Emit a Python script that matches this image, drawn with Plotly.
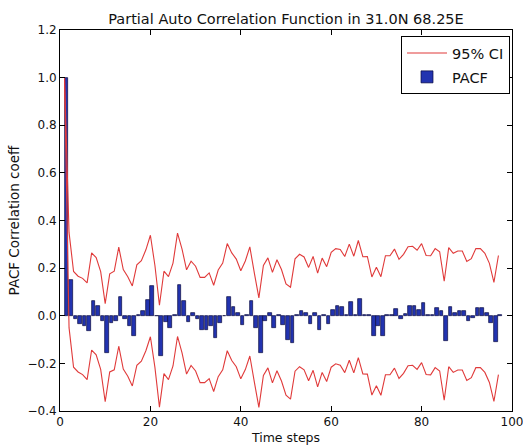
import plotly.graph_objects as go

# Lag positions (time steps) for the PACF bars and the confidence-interval lines
lags = list(range(1, 98))

# PACF values (first value = lag 0)
pacf = [
    1.0, 0.15, -0.015, -0.035, -0.045, -0.065, 0.06, 0.04, -0.02, -0.155,
    -0.03, -0.02, 0.08, -0.015, -0.045, -0.085, 0.003, 0.02, 0.065, 0.125,
    -0.003, -0.17, -0.028, -0.052, 0.005, 0.13, 0.062, -0.026, 0.01, -0.012,
    -0.06, -0.06, -0.042, -0.095, -0.032, -0.003, 0.078, 0.038, 0.012, -0.038,
    0.002, 0.06, -0.05, -0.155, -0.02, 0.012, -0.05, 0.002, -0.04, -0.1,
    -0.115, 0.003, 0.022, 0.01, -0.035, 0.01, -0.06, 0.002, -0.035, 0.025,
    0.04, 0.035, 0.005, 0.057, 0.005, 0.07, 0.002, 0.002, -0.085, -0.045,
    -0.085, 0.002, 0.002, 0.03, -0.013, 0.008, 0.04, 0.042, 0.025, 0.053,
    0.003, 0.002, 0.032, 0.018, -0.105, 0.036, 0.012, 0.022, 0.022, -0.022,
    -0.01, 0.032, 0.032, 0.012, -0.03, -0.11, 0.003,
]

# Upper and lower 95% confidence bounds
ci_upper = [
    1.0, 0.35, 0.186, 0.166, 0.157, 0.138, 0.264, 0.244, 0.185, 0.051,
    0.176, 0.187, 0.288, 0.194, 0.164, 0.125, 0.214, 0.231, 0.277, 0.338,
    0.211, 0.044, 0.187, 0.164, 0.221, 0.347, 0.280, 0.193, 0.229, 0.208,
    0.161, 0.161, 0.180, 0.128, 0.192, 0.221, 0.303, 0.264, 0.238, 0.189,
    0.230, 0.289, 0.179, 0.075, 0.211, 0.243, 0.182, 0.235, 0.194, 0.134,
    0.120, 0.239, 0.258, 0.247, 0.203, 0.249, 0.179, 0.242, 0.206, 0.266,
    0.282, 0.278, 0.249, 0.301, 0.250, 0.316, 0.248, 0.249, 0.163, 0.204,
    0.164, 0.252, 0.252, 0.280, 0.237, 0.258, 0.290, 0.292, 0.275, 0.303,
    0.253, 0.252, 0.282, 0.268, 0.145, 0.286, 0.262, 0.272, 0.272, 0.228,
    0.240, 0.282, 0.282, 0.262, 0.220, 0.140, 0.253,
]
ci_lower = [
    1.0, -0.05, -0.216, -0.236, -0.247, -0.268, -0.144, -0.164, -0.225, -0.361,
    -0.236, -0.227, -0.128, -0.224, -0.254, -0.295, -0.208, -0.191, -0.147, -0.088,
    -0.217, -0.384, -0.243, -0.268, -0.211, -0.087, -0.156, -0.245, -0.209, -0.232,
    -0.281, -0.281, -0.264, -0.318, -0.256, -0.227, -0.147, -0.188, -0.214, -0.265,
    -0.226, -0.169, -0.279, -0.385, -0.251, -0.219, -0.282, -0.231, -0.274, -0.334,
    -0.350, -0.233, -0.214, -0.227, -0.273, -0.229, -0.299, -0.238, -0.276, -0.216,
    -0.202, -0.208, -0.239, -0.187, -0.240, -0.176, -0.244, -0.245, -0.333, -0.294,
    -0.334, -0.248, -0.248, -0.220, -0.263, -0.242, -0.210, -0.208, -0.225, -0.197,
    -0.247, -0.248, -0.218, -0.232, -0.355, -0.214, -0.238, -0.228, -0.228, -0.272,
    -0.260, -0.218, -0.218, -0.238, -0.280, -0.360, -0.247,
]

x_ticks = [0, 20, 40, 60, 80, 100]
y_ticks = [-0.4, -0.2, 0.0, 0.2, 0.4, 0.6, 0.8, 1.0, 1.2]

FONT = "DejaVu Sans"
RED = "#e03a3a"

fig = go.Figure()

fig.add_trace(go.Bar(
    x=lags, y=pacf, name="PACF", width=0.8, offset=0,
    marker=dict(color="#2233b0", line=dict(color="#0a0a40", width=0.7)),
    legendgroup="b", legendrank=2, showlegend=True,
))
fig.add_trace(go.Scatter(
    x=lags, y=ci_upper, mode="lines", name="95% CI",
    line=dict(color=RED, width=1.1), legendgroup="a", legendrank=1,
    showlegend=True,
))
fig.add_trace(go.Scatter(
    x=lags, y=ci_lower, mode="lines", name="95% CI",
    line=dict(color=RED, width=1.1), legendgroup="a", legendrank=1,
    showlegend=False,
))

axis_common = dict(
    showgrid=False, zeroline=False, showline=True, linecolor="#000",
    linewidth=1, mirror="ticks", ticks="inside", ticklen=5, tickwidth=1,
    tickcolor="#000", tickfont=dict(family=FONT, size=12, color="#111"),
    automargin=False,
)

fig.update_layout(
    width=523, height=446,
    margin=dict(l=60, r=11, t=30, b=35),
    paper_bgcolor="white", plot_bgcolor="white",
    font=dict(family=FONT, color="#111"),
    bargap=0,
    title=dict(
        text="Partial Auto Correlation Function in 31.0N 68.25E",
        font=dict(family=FONT, size=14.5, color="#111"),
        x=0.5, xref="paper", xanchor="center",
        y=1 - 19 / 446, yref="container", yanchor="middle",
    ),
    xaxis=dict(
        range=[0, 100], tickvals=x_ticks, ticklabeloverflow="allow",
        title=dict(text="Time steps", font=dict(family=FONT, size=12.5), standoff=4),
        **axis_common,
    ),
    yaxis=dict(
        range=[-0.4, 1.2], tickvals=y_ticks, tickformat=".1f",
        title=dict(text="PACF Correlation coeff", font=dict(family=FONT, size=13.5), standoff=4),
        **axis_common,
    ),
    legend=dict(
        x=0.9956, xanchor="right", y=0.984, yanchor="top",
        bgcolor="white", bordercolor="#000", borderwidth=1,
        font=dict(family=FONT, size=14.5, color="#111"),
        traceorder="grouped", tracegroupgap=2, itemwidth=40,
    ),
)

fig.write_html("out.html")
